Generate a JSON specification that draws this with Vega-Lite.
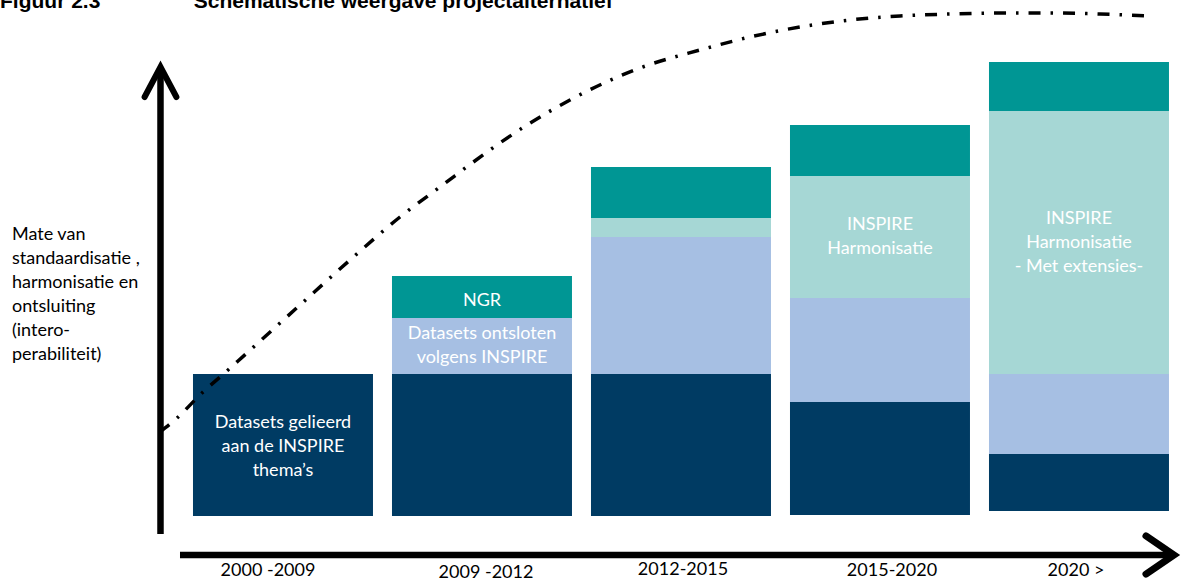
{
  "$schema": "https://vega.github.io/schema/vega-lite/v6.json",
  "width": 1022,
  "height": 468,
  "autosize": {"type": "none"},
  "padding": {"left": 160, "top": 66, "right": 0, "bottom": 47},
  "background": "white",
  "config": {"view": {"stroke": null}},
  "title": {
    "text": "Figuur 2.3\u00a0\u00a0\u00a0\u00a0\u00a0\u00a0\u00a0\u00a0\u00a0\u00a0\u00a0\u00a0\u00a0\u00a0\u00a0\u00a0Schematische weergave projectalternatief",
    "anchor": "start",
    "frame": "group",
    "dx": -160,
    "dy": 23,
    "offset": 0,
    "baseline": "alphabetic",
    "font": "Liberation Sans",
    "fontSize": 21,
    "fontWeight": "bold",
    "color": "black"
  },
  "layer": [
    {
      "data": {"values": [
        {"period": "2000 -2009", "layer": "dark", "level": 0, "top": 142},
        {"period": "2009 -2012", "layer": "dark", "level": 0, "top": 142},
        {"period": "2009 -2012", "layer": "blue", "level": 142, "top": 198},
        {"period": "2009 -2012", "layer": "teal", "level": 198, "top": 240},
        {"period": "2012-2015", "layer": "dark", "level": 0, "top": 142},
        {"period": "2012-2015", "layer": "blue", "level": 142, "top": 279},
        {"period": "2012-2015", "layer": "lightteal", "level": 279, "top": 298},
        {"period": "2012-2015", "layer": "teal", "level": 298, "top": 349},
        {"period": "2015-2020", "layer": "dark", "level": 1, "top": 114},
        {"period": "2015-2020", "layer": "blue", "level": 114, "top": 218},
        {"period": "2015-2020", "layer": "lightteal", "level": 218, "top": 340},
        {"period": "2015-2020", "layer": "teal", "level": 340, "top": 391},
        {"period": "2020 >", "layer": "dark", "level": 5, "top": 62},
        {"period": "2020 >", "layer": "blue", "level": 62, "top": 142},
        {"period": "2020 >", "layer": "lightteal", "level": 142, "top": 405},
        {"period": "2020 >", "layer": "teal", "level": 405, "top": 454}
      ]},
      "mark": {"type": "bar"},
      "encoding": {
        "x": {
          "field": "period", "type": "nominal", "sort": null,
          "scale": {"type": "band", "domain": ["2000 -2009", "2009 -2012", "2012-2015", "2015-2020", "2020 >"], "paddingInner": 0.0955, "paddingOuter": 0.1156, "align": 0.717},
          "axis": {
            "title": null, "domain": false, "ticks": false, "grid": false,
            "labelAngle": 0, "labelFont": "Lato", "labelFontSize": 18, "labelColor": "black",
            "labelBaseline": "middle",
            "labelPadding": {"expr": "datum.value == '2009 -2012' ? 38 : datum.value == '2012-2015' ? 35 : 36"},
            "labelOffset": {"expr": "datum.value == '2000 -2009' ? -15 : datum.value == '2009 -2012' ? 4 : datum.value == '2012-2015' ? 2 : datum.value == '2015-2020' ? 12 : -3"}
          }
        },
        "y": {
          "field": "level", "type": "quantitative",
          "scale": {"domain": [-18, 450], "nice": false, "zero": false},
          "axis": null
        },
        "y2": {"field": "top"},
        "color": {
          "field": "layer", "type": "nominal",
          "scale": {"domain": ["dark", "blue", "lightteal", "teal"], "range": ["#003B63", "#A6BFE3", "#A6D7D5", "#009694"]},
          "legend": null
        }
      }
    },
    {
      "data": {"values": [
        {"period": "2000 -2009", "level": 93, "label": ["Datasets gelieerd", "aan de INSPIRE", "thema’s"]},
        {"period": "2009 -2012", "level": 215, "label": ["NGR"]},
        {"period": "2009 -2012", "level": 182, "label": ["Datasets ontsloten", "volgens INSPIRE"]},
        {"period": "2015-2020", "level": 291, "label": ["INSPIRE", "Harmonisatie"]},
        {"period": "2020 >", "level": 297, "label": ["INSPIRE", "Harmonisatie", "- Met extensies-"]}
      ]},
      "mark": {"type": "text", "font": "Lato", "fontSize": 18, "color": "white", "align": "center", "baseline": "middle", "lineHeight": 24},
      "encoding": {
        "x": {
          "field": "period", "type": "nominal", "sort": null,
          "scale": {"type": "band", "domain": ["2000 -2009", "2009 -2012", "2012-2015", "2015-2020", "2020 >"], "paddingInner": 0.0955, "paddingOuter": 0.1156, "align": 0.717},
          "axis": null
        },
        "y": {"field": "level", "type": "quantitative", "axis": null},
        "text": {"field": "label"}
      }
    },
    {
      "data": {"values": [
        {"t": -14.95, "level": 281, "label": ["Mate van", "standaardisatie ,", "harmonisatie en", "ontsluiting", "(intero-", "perabiliteit)"]}
      ]},
      "mark": {"type": "text", "font": "Lato", "fontSize": 18, "color": "black", "align": "left", "baseline": "middle", "lineHeight": 24},
      "encoding": {
        "x": {"field": "t", "type": "quantitative", "scale": {"domain": [0, 103.23], "nice": false, "zero": false}, "axis": null},
        "y": {"field": "level", "type": "quantitative", "axis": null},
        "text": {"field": "label"}
      }
    },
    {
      "data": {"values": [
        {"t": 0, "level": 84}, {"t": 1.72, "level": 98}, {"t": 4.24, "level": 123},
        {"t": 6.87, "level": 146}, {"t": 7.88, "level": 155}, {"t": 14.14, "level": 211},
        {"t": 19.19, "level": 256}, {"t": 24.24, "level": 299}, {"t": 28.28, "level": 329},
        {"t": 34.04, "level": 371}, {"t": 37.07, "level": 391}, {"t": 41.41, "level": 416},
        {"t": 48.48, "level": 448}, {"t": 54.55, "level": 466}, {"t": 59.6, "level": 479},
        {"t": 64.65, "level": 489}, {"t": 69.7, "level": 496}, {"t": 74.75, "level": 500},
        {"t": 79.8, "level": 502}, {"t": 84.85, "level": 503}, {"t": 89.9, "level": 503},
        {"t": 94.95, "level": 502}, {"t": 100, "level": 500}
      ]},
      "mark": {"type": "line", "color": "black", "strokeWidth": 3.5, "strokeDash": [12, 10, 2.5, 10], "interpolate": "monotone"},
      "encoding": {
        "x": {"field": "t", "type": "quantitative", "scale": {"domain": [0, 103.23], "nice": false, "zero": false}, "axis": null},
        "y": {"field": "level", "type": "quantitative", "axis": null}
      }
    },
    {
      "data": {"values": [
        {"t": 2.02, "t2": 102.2, "level": -39, "level2": -39},
        {"t": 0.05, "t2": 0.05, "level": -18, "level2": 444}
      ]},
      "mark": {"type": "rule", "color": "black", "strokeWidth": 6.5},
      "encoding": {
        "x": {"field": "t", "type": "quantitative", "scale": {"domain": [0, 103.23], "nice": false, "zero": false}, "axis": null},
        "x2": {"field": "t2"},
        "y": {"field": "level", "type": "quantitative", "axis": null},
        "y2": {"field": "level2"}
      }
    },
    {
      "data": {"values": [{"t": 0.05, "level": 449}]},
      "mark": {"type": "point", "shape": "M-0.53,1L0,0L0.53,1", "size": 3600, "filled": false, "stroke": "black", "strokeWidth": 6, "strokeCap": "round", "strokeJoin": "miter", "opacity": 1},
      "encoding": {
        "x": {"field": "t", "type": "quantitative", "scale": {"domain": [0, 103.23], "nice": false, "zero": false}, "axis": null},
        "y": {"field": "level", "type": "quantitative", "axis": null}
      }
    },
    {
      "data": {"values": [{"t": 102.42, "level": -39}]},
      "mark": {"type": "point", "shape": "M-1,-0.68L0,0L-1,0.68", "size": 3136, "filled": false, "stroke": "black", "strokeWidth": 7, "strokeCap": "round", "strokeJoin": "miter", "opacity": 1},
      "encoding": {
        "x": {"field": "t", "type": "quantitative", "scale": {"domain": [0, 103.23], "nice": false, "zero": false}, "axis": null},
        "y": {"field": "level", "type": "quantitative", "axis": null}
      }
    }
  ],
  "resolve": {"scale": {"x": "independent"}, "axis": {"x": "independent"}}
}
